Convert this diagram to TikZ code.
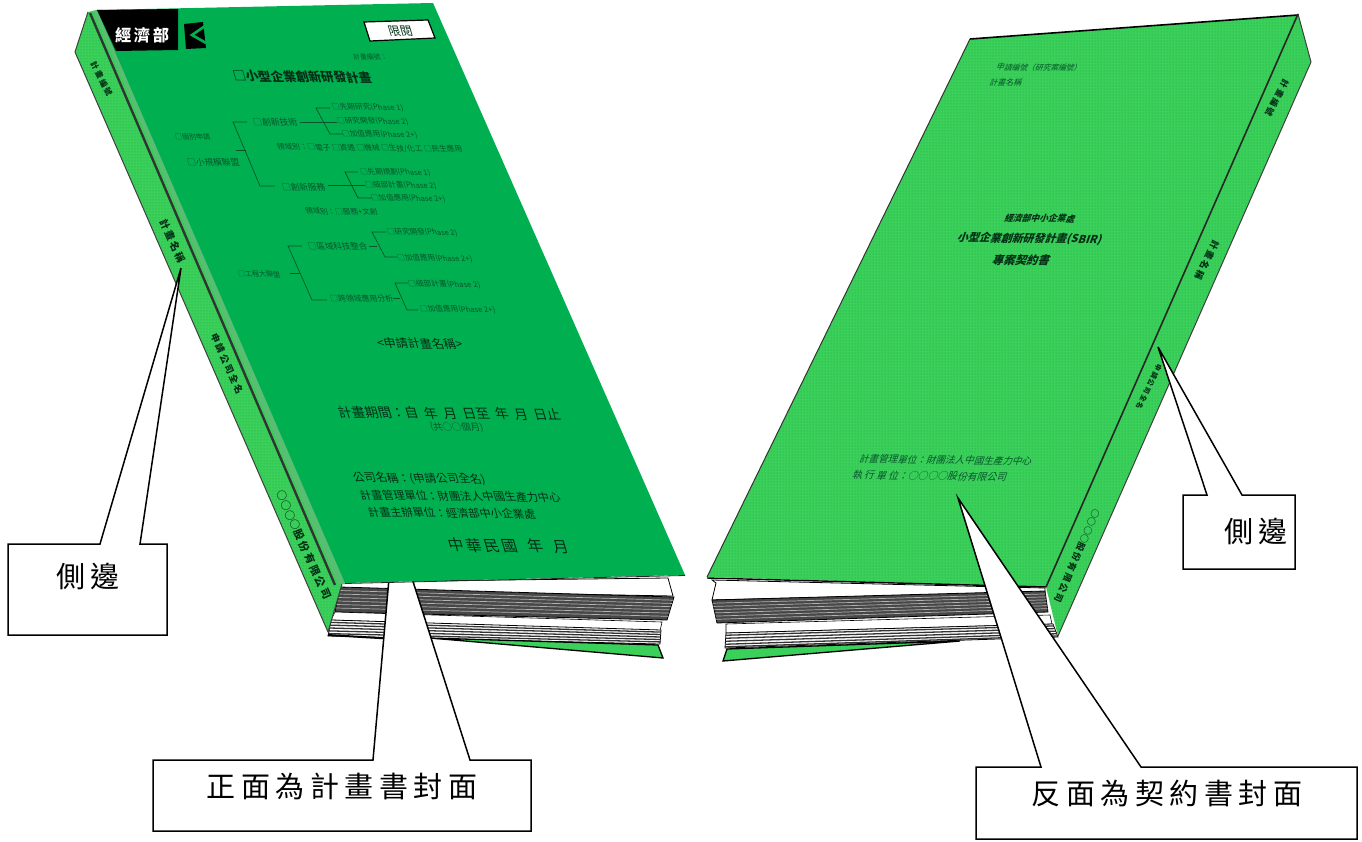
\documentclass[tikz,border=0pt]{standalone}
\usepackage{fontspec}
\usepackage{graphicx}
\usetikzlibrary{calc,patterns}
\newfontfamily\cjk{Noto Sans CJK TC}
\newfontfamily\cjkspaced[LetterSpace=19]{Noto Sans CJK TC}
\definecolor{coverg}{HTML}{00B050}
\definecolor{backg}{HTML}{3AD05A}
\definecolor{dotg}{HTML}{20A644}
\definecolor{stripg}{HTML}{58BE72}
\definecolor{inkg}{HTML}{07552A}
\definecolor{inkd}{HTML}{042E16}
\newcounter{tn}
\tikzset{
  dotted green/.style={preaction={fill=backg},pattern=dots,pattern color=dotg},
  edgeline/.style={draw=black!75,line width=1pt,line join=round},
  pageblock/.style={fill=black!72,draw=black,line width=.8pt},
  whiteblock/.style={fill=white,draw=black,line width=.6pt},
  pageline/.style={white!70!black,line width=.7pt},
  callout/.style={fill=white,draw=black,line width=1.5pt,line join=miter},
  treeline/.style={draw=inkg,line width=.7pt},
  biglabel/.style={inner sep=0pt,font=\cjkspaced\fontsize{29}{29}\selectfont,text=black},
}
\newcommand{\covertext}[6]{\stepcounter{tn}%
  \begin{scope}[shift={(#1,#2)},cm={1,-0.012,#3,1,(0,0)}]
  \node[transform shape,anchor=west,inner sep=0pt,text=#5] (t\arabic{tn}) at (0,0)
     {\resizebox{#4pt}{!}{\cjk\fontsize{10}{12}\selectfont #6}};
  \end{scope}}
\newcommand{\lt}[5][inkg]{\covertext{#2}{#3}{-0.3}{#4}{#1}{#5}}
\newcommand{\rt}[5][inkg]{\covertext{#2}{#3}{0.35}{#4}{#1}{#5}}
\newcommand{\spinetext}[4]{\stepcounter{tn}%
  \node[rotate=#3,inner sep=0pt,text=inkd] (t\arabic{tn}) at (#1,#2) {#4};}
\newcommand{\sizedcjk}[2]{\resizebox{#1pt}{!}{\cjk\fontsize{10}{12}\selectfont\bfseries #2}}
\begin{document}
\begin{tikzpicture}[x=1pt,y=-1pt]
\useasboundingbox (0,0) rectangle (1362,842);
% ---------- LEFT BOOK ----------
\path[pageblock,fill=white] (338,582) -- (668,578) -- (673,596) -- (338,590) -- cycle;
\coordinate (LA) at (340,587); \coordinate (LB) at (335,612);
\coordinate (RA) at (674,597); \coordinate (RB) at (667,620);
\path[pageblock] (LA) -- (RA) -- (RB) -- (LB) -- cycle;
\foreach \t in {.14,.28,.42,.56,.7,.84}{\draw[pageline] ($(LA)!\t!(LB)$) -- ($(RA)!\t!(RB)$);}
\path[whiteblock] (335,612) -- (662,622) -- (660,631) -- (331,620) -- cycle;
\coordinate (LC) at (331,620); \coordinate (LD) at (328,636);
\coordinate (RC) at (661,630); \coordinate (RD) at (660,644);
\path[pageblock,fill=white] (LC) -- (RC) -- (RD) -- (LD) -- cycle;
\foreach \t in {.15,.32,.5,.68,.85}{\draw[black!80,line width=1.3pt] ($(LC)!\t!(LD)$) -- ($(RC)!\t!(RD)$);}
\path[fill=backg,draw=black,line width=1.3pt] (430,638) -- (658,645) -- (663,658) -- cycle;
\draw[black,line width=2pt] (328,635) -- (430,641);
% spine
\path[dotted green] (88,12) -- (75,52) -- (328,632) -- (342,584) -- (345,584) -- (97,10) -- cycle;
\draw[edgeline] (88,12) -- (75,52) -- (328,632) -- (342,584);
\path[fill=stripg] (93,11) -- (100,10) -- (346,583) -- (338,584) -- cycle;
\draw[black!80,line width=2.4pt] (90,13) -- (335,585);
\spinetext{101.5}{79}{-63}{\sizedcjk{37}{計\ 畫\ 編\ 號}}
\spinetext{172.5}{241}{-66}{\sizedcjk{47}{計\ 畫\ 名\ 稱}}
\spinetext{227}{364}{-66}{\sizedcjk{65}{申\ 請\ 公\ 司\ 全\ 名}}
\spinetext{304}{545}{-66}{\sizedcjk{118}{○○○○股\ 份\ 有\ 限\ 公\ 司}}
% bottom callout (tip hidden behind the cover)
\path[callout] (153,760) -- (373,760) -- (394,522) -- (470,760) -- (531,760) -- (531,831) -- (153,831) -- cycle;
\node[biglabel,anchor=center] (frontlabel) at (342,786) {正面為計畫書封面};
% cover
\path[fill=coverg] (97,10) -- (433,3) -- (685,575) -- (345,583) -- cycle;
\draw[black!85,line width=.8pt] (345,583.5) -- (685,575.5);
\path[fill=black] (97,10) -- (178,9) -- (178,50) -- (116,51) -- cycle;
\node[inner sep=0pt,text=white] (moea) at (142,35) {\resizebox{54pt}{!}{\cjk\fontsize{10}{12}\selectfont\bfseries 經\,濟\,部}};
\path[fill=black] (184,24) -- (203,22) -- (206,48) -- (186,49) -- cycle;
\draw[coverg,line width=2.6pt,line join=miter] (205,26) -- (192,35) -- (206,43);
\path[fill=white,draw=black,line width=1.2pt] (364,22) -- (428,20) -- (435,38) -- (370,41) -- cycle;
\lt[inkd]{388}{31}{24}{限閱}
\lt{353}{57}{34}{計畫編號：}
\lt[inkd]{233}{76}{138}{\bfseries □小型企業創新研發計畫}
% tree
\lt{175}{137}{35}{□個別申請}
\lt{187}{162}{52}{□小規模聯盟}
\draw[treeline] (247,122) -- (233,122) -- (260,186) -- (275,186);
\draw[treeline] (236,150) -- (246,150);
\lt{253}{122}{44}{□創新技術}
\draw[treeline] (300,122) -- (337,122);
\draw[treeline] (330,108) -- (316,108) -- (330,134) -- (343,134);
\lt{332}{107}{71}{□先期研究(Phase 1)}
\lt{337}{121}{71}{□研究開發(Phase 2)}
\lt{342}{134}{75}{□加值應用(Phase 2+)}
\lt{277}{147}{185}{領域別：□電子 □資通 □機械 □生技/化工 □民生應用}
\lt{282}{187}{43}{□創新服務}
\draw[treeline] (328,185) -- (365,185);
\draw[treeline] (358,172) -- (345,172) -- (358,198) -- (372,198);
\lt{360}{172}{70}{□先期規劃(Phase 1)}
\lt{365}{185}{71}{□細部計畫(Phase 2)}
\lt{371}{198}{74}{□加值應用(Phase 2+)}
\lt{305}{211}{72}{領域別：□服務+文創}
\lt{308}{246}{59}{□區域科技整合}
\draw[treeline] (369,246) -- (377,246);
\draw[treeline] (386,232) -- (372,232) -- (385,257) -- (397,257);
\lt{387}{232}{70}{□研究開發(Phase 2)}
\lt{397}{258}{75}{□加值應用(Phase 2+)}
\lt{238}{274}{42}{□工程大聯盟}
\draw[treeline] (302,246) -- (288,246) -- (312,300) -- (327,300);
\draw[treeline] (290,273) -- (300,273);
\lt{330}{298}{63}{□跨領域應用分析}
\draw[treeline] (393,298) -- (400,298);
\draw[treeline] (408,283) -- (395,283) -- (407,310) -- (418,310);
\lt{408}{284}{72}{□細部計畫(Phase 2)}
\lt{420}{309}{75}{□加值應用(Phase 2+)}
\lt[inkd]{377}{343}{85}{<申請計畫名稱>}
\lt[inkd]{338}{412}{222}{計畫期間：自\ \ 年\ \ 月\ \ 日至\ \ 年\ \ 月\ \ 日止}
\lt{430}{427}{53}{(共○○個月)}
\lt[inkd]{353}{478}{132}{公司名稱：(申請公司全名)}
\lt[inkd]{360}{495}{200}{計畫管理單位：財團法人中國生產力中心}
\lt[inkd]{368}{512}{167}{計畫主辦單位：經濟部中小企業處}
\lt[inkd]{448}{545}{120}{中\,華\,民\,國\ \ \ 年\ \ \ 月}
% left callout
\path[callout] (8,544) -- (100,544) -- (181,268) -- (140,544) -- (167,544) -- (167,635) -- (8,635) -- cycle;
\node[biglabel,anchor=center] (leftlabel) at (88,576) {側邊};
% ---------- RIGHT BOOK ----------
\path[fill=white,draw=black,line width=.8pt] (712,580) -- (1045,588) -- (1045,592) -- (712,600) -- (716,583) -- cycle;
\coordinate (LE) at (712,600); \coordinate (LF) at (717,623);
\coordinate (RE) at (1045,591); \coordinate (RF) at (1048,612);
\path[pageblock] (LE) -- (RE) -- (RF) -- (LF) -- cycle;
\foreach \t in {.14,.28,.42,.56,.7,.84}{\draw[pageline] ($(LE)!\t!(LF)$) -- ($(RE)!\t!(RF)$);}
\path[whiteblock] (726,624) -- (1050,615) -- (1052,624) -- (726,633) -- cycle;
\coordinate (LG) at (726,633); \coordinate (LH) at (725,648);
\coordinate (RG) at (1053,624); \coordinate (RH) at (1058,637);
\path[pageblock,fill=white] (LG) -- (RG) -- (RH) -- (LH) -- cycle;
\foreach \t in {.15,.35,.55,.75,.92}{\draw[black!80,line width=1.3pt] ($(LG)!\t!(LH)$) -- ($(RG)!\t!(RH)$);}
\path[fill=backg,draw=black,line width=1.3pt] (727,649) -- (960,641) -- (723,661) -- cycle;
% back cover and spine
\path[dotted green] (970,39) -- (1298,15) -- (1047,587) -- (707,577) -- cycle;
\draw[black,line width=1.6pt,line join=round] (970,39) -- (1298,15);
\draw[black!80,line width=1pt] (970,39) -- (707,577);
\draw[black,line width=1.4pt] (707,578) -- (1047,587);
\path[dotted green] (1298,14) -- (1311,62) -- (1058,636) -- (1046,587) -- cycle;
\draw[edgeline] (1298,14) -- (1311,62) -- (1058,636);
\draw[black!85,line width=1.6pt] (1298,14) -- (1046,587);
\spinetext{1277}{98}{-118}{\sizedcjk{40}{計\ 畫\ 編\ 號}}
\spinetext{1207}{260}{-116}{\sizedcjk{43}{計\ 畫\ 名\ 稱}}
\spinetext{1149}{387}{-116}{\sizedcjk{49}{申\ 請\ 公\ 司\ 全\ 名}}
\spinetext{1077}{556}{-113.3}{\sizedcjk{100}{○○○○股\ 份\ 有\ 限\ 公\ 司}}
\rt{997}{67}{85}{申請編號（研究案編號）}
\rt{990}{82}{32}{計畫名稱}
\rt[inkd]{1005}{218}{70}{\bfseries 經濟部中小企業處}
\rt[inkd]{958}{238}{144}{\bfseries 小型企業創新研發計畫(SBIR)}
\rt[inkd]{993}{260}{57}{\bfseries 專案契約書}
\rt{860}{459}{172}{計畫管理單位：財團法人中國生產力中心}
\rt{853}{475}{154}{執 行 單 位：○○○○股份有限公司}
% right callouts
\path[callout] (1183,495) -- (1207,495) -- (1158,347) -- (1242,495) -- (1295,495) -- (1295,569) -- (1183,569) -- cycle;
\node[biglabel,anchor=center] (rightlabel) at (1256,531) {側邊};
\path[callout] (976,767) -- (1041,767) -- (958,498) -- (1141,767) -- (1357,767) -- (1357,839) -- (976,839) -- cycle;
\node[biglabel,anchor=center] (backlabel) at (1167,793) {反面為契約書封面};
\end{tikzpicture}
\end{document}
